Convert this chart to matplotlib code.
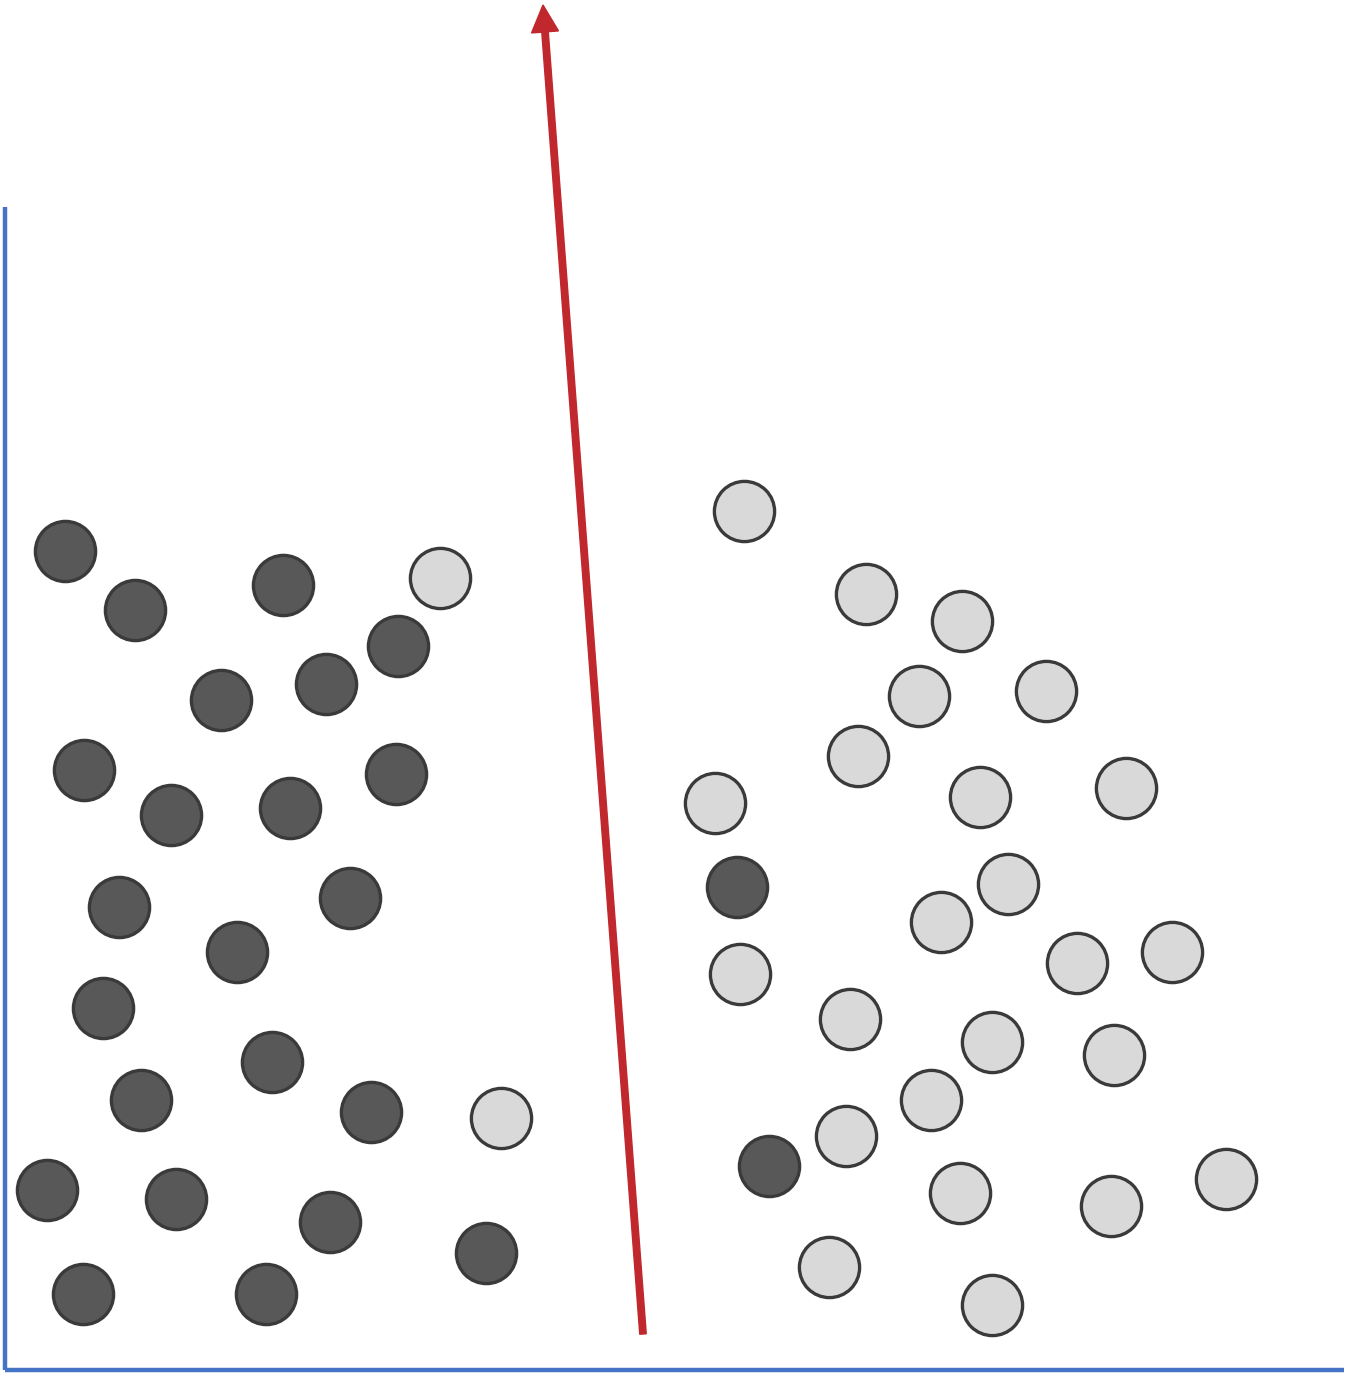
import matplotlib
matplotlib.use("Agg")
import matplotlib.pyplot as plt
from matplotlib.patches import FancyArrow

# point centres in picture pixels (x right, y down)
dark_x = [65, 135, 283, 398, 221, 326, 84, 171, 290, 396, 119, 350, 237, 103,
          272, 141, 371, 47, 176, 330, 486, 83, 266, 737, 769]
dark_y = [551, 610, 585, 646, 700, 684, 770, 815, 808, 774, 907, 898, 952, 1008,
          1062, 1100, 1112, 1190, 1199, 1222, 1253, 1294, 1294, 887, 1166]

light_x = [440, 501, 744, 866, 962, 919, 1046, 858, 715, 980, 1126, 1008, 941,
           1077, 1172, 740, 850, 992, 1114, 931, 846, 960, 1111, 1226, 829, 992]
light_y = [578, 1118, 511, 594, 621, 696, 691, 756, 803, 797, 788, 884, 922,
           963, 952, 974, 1019, 1042, 1055, 1100, 1136, 1193, 1206, 1179, 1267, 1305]

# separating direction: tail -> tip
arrow_x = [643, 543]
arrow_y = [1334, 5]

DARK = "#585858"
LIGHT = "#d9d9d9"
EDGE = "#3a3a3a"
RED = "#c0282d"
BLUE = "#4472c4"

fig = plt.figure(figsize=(13.5, 13.77), dpi=100)
ax = fig.add_axes([0, 0, 1, 1])
ax.set_xlim(0, 1350)
ax.set_ylim(1377, 0)
ax.axis("off")

# axes lines
ax.plot([5, 5], [207, 1370], color=BLUE, lw=3.2, solid_capstyle="butt")
ax.plot([5, 1344], [1370, 1370], color=BLUE, lw=3.2, solid_capstyle="butt")

ms = 1880
ax.scatter(dark_x, dark_y, s=ms, c=DARK, edgecolors=EDGE, linewidths=2.4, zorder=3)
ax.scatter(light_x, light_y, s=ms, c=LIGHT, edgecolors=EDGE, linewidths=2.4, zorder=3)

ax.add_patch(FancyArrow(arrow_x[0], arrow_y[0], arrow_x[1] - arrow_x[0],
                        arrow_y[1] - arrow_y[0], width=6.5, head_width=27,
                        head_length=27, length_includes_head=True,
                        fc=RED, ec=RED, zorder=4))

fig.savefig("out.png", dpi=100)
